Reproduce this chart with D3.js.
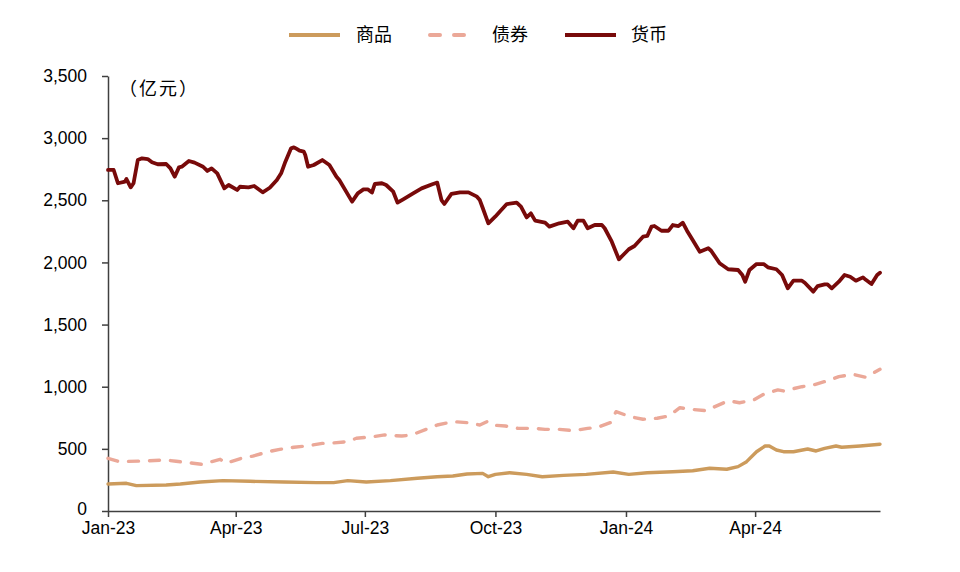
<!DOCTYPE html>
<html>
<head>
<meta charset="utf-8">
<script src="https://cdn.jsdelivr.net/npm/d3@7"></script>
<style>
  html, body { margin: 0; padding: 0; background: #fff; }
  svg { display: block; font-family: "Liberation Sans", Arial, sans-serif; }
</style>
</head>
<body>
<svg id="chart" width="960" height="572"></svg>
<script>
// ---- data ----
const seriesNames = ["商品", "债券", "货币"];
const unitLabel = "（亿元）";
const xTickDates = ["2023-01-01", "2023-04-01", "2023-07-01", "2023-10-01", "2024-01-01", "2024-04-01"];
const yTickValues = [0, 500, 1000, 1500, 2000, 2500, 3000, 3500];
const xDomain = ["2023-01-01", "2024-06-28"];

const commodityDates = ["2023-01-01","2023-01-14","2023-01-21","2023-02-11","2023-02-21","2023-03-07","2023-03-23","2023-04-11","2023-05-05","2023-05-28","2023-06-09","2023-06-19","2023-07-02","2023-07-19","2023-08-07","2023-08-21","2023-09-01","2023-09-11","2023-09-22","2023-09-26","2023-10-01","2023-10-11","2023-10-23","2023-11-03","2023-11-18","2023-12-04","2023-12-23","2024-01-03","2024-01-16","2024-02-03","2024-02-17","2024-02-29","2024-03-12","2024-03-20","2024-03-26","2024-04-02","2024-04-08","2024-04-11","2024-04-16","2024-04-21","2024-04-28","2024-05-08","2024-05-14","2024-05-20","2024-05-28","2024-06-01","2024-06-14","2024-06-28"];
const commodityValues = [217,223,204,209,217,233,244,239,233,228,228,244,233,244,263,276,282,298,303,276,295,308,295,276,287,295,314,295,308,316,324,344,336,357,397,477,523,523,491,477,477,499,483,504,523,513,523,537];

const bondDates = ["2023-01-01","2023-01-09","2023-01-24","2023-02-11","2023-02-18","2023-03-02","2023-03-08","2023-03-21","2023-03-25","2023-04-05","2023-04-13","2023-04-24","2023-05-02","2023-05-12","2023-05-21","2023-06-01","2023-06-09","2023-06-19","2023-06-25","2023-07-07","2023-07-15","2023-07-27","2023-08-03","2023-08-15","2023-08-21","2023-09-01","2023-09-11","2023-09-20","2023-09-25","2023-09-28","2023-10-08","2023-10-17","2023-10-28","2023-11-05","2023-11-15","2023-11-25","2023-12-05","2023-12-12","2023-12-21","2023-12-25","2024-01-04","2024-01-13","2024-01-23","2024-01-31","2024-02-08","2024-02-16","2024-02-27","2024-03-02","2024-03-13","2024-03-21","2024-03-31","2024-04-07","2024-04-17","2024-04-21","2024-05-04","2024-05-12","2024-05-22","2024-05-30","2024-06-09","2024-06-18","2024-06-28"];
const bondValues = [424,397,402,410,400,384,376,416,384,424,442,477,496,513,523,544,548,558,585,598,612,603,612,665,692,719,711,692,719,692,684,665,665,657,657,646,665,673,711,799,759,738,746,764,831,818,807,831,887,871,893,939,974,966,1000,1014,1048,1081,1100,1076,1140];

const moneyDates = ["2023-01-01","2023-01-05","2023-01-08","2023-01-13","2023-01-14","2023-01-17","2023-01-19","2023-01-22","2023-01-25","2023-01-29","2023-02-01","2023-02-05","2023-02-11","2023-02-14","2023-02-17","2023-02-20","2023-02-22","2023-02-27","2023-03-03","2023-03-09","2023-03-12","2023-03-15","2023-03-19","2023-03-24","2023-03-27","2023-04-02","2023-04-04","2023-04-10","2023-04-14","2023-04-20","2023-04-25","2023-04-30","2023-05-03","2023-05-06","2023-05-10","2023-05-12","2023-05-14","2023-05-16","2023-05-19","2023-05-20","2023-05-22","2023-05-26","2023-06-01","2023-06-06","2023-06-11","2023-06-13","2023-06-22","2023-06-26","2023-06-30","2023-07-03","2023-07-06","2023-07-08","2023-07-13","2023-07-16","2023-07-21","2023-07-24","2023-07-28","2023-08-04","2023-08-10","2023-08-18","2023-08-21","2023-08-24","2023-08-26","2023-08-31","2023-09-06","2023-09-12","2023-09-18","2023-09-20","2023-09-22","2023-09-26","2023-10-01","2023-10-04","2023-10-09","2023-10-16","2023-10-19","2023-10-23","2023-10-26","2023-10-29","2023-11-05","2023-11-08","2023-11-15","2023-11-21","2023-11-25","2023-11-28","2023-12-02","2023-12-05","2023-12-10","2023-12-15","2023-12-17","2023-12-22","2023-12-27","2023-12-30","2024-01-03","2024-01-07","2024-01-13","2024-01-16","2024-01-19","2024-01-21","2024-01-26","2024-01-31","2024-02-03","2024-02-07","2024-02-10","2024-02-13","2024-02-17","2024-02-22","2024-02-28","2024-03-01","2024-03-07","2024-03-13","2024-03-20","2024-03-23","2024-03-25","2024-03-28","2024-04-02","2024-04-07","2024-04-10","2024-04-16","2024-04-20","2024-04-24","2024-04-28","2024-05-04","2024-05-06","2024-05-12","2024-05-15","2024-05-20","2024-05-22","2024-05-25","2024-05-30","2024-06-03","2024-06-07","2024-06-11","2024-06-16","2024-06-18","2024-06-22","2024-06-26","2024-06-28"];
const moneyValues = [2744,2744,2637,2650,2671,2604,2637,2824,2838,2832,2806,2790,2792,2757,2690,2765,2770,2816,2803,2770,2736,2757,2717,2596,2623,2583,2609,2604,2615,2564,2601,2663,2717,2811,2918,2926,2913,2899,2891,2864,2770,2784,2824,2784,2690,2663,2489,2556,2588,2588,2562,2631,2637,2623,2569,2481,2508,2556,2596,2631,2642,2502,2470,2551,2564,2564,2529,2502,2440,2315,2370,2408,2470,2481,2449,2362,2395,2336,2320,2288,2315,2328,2275,2336,2336,2275,2301,2301,2275,2167,2025,2060,2106,2132,2207,2213,2288,2293,2255,2255,2301,2293,2320,2255,2180,2086,2114,2094,1993,1945,1939,1899,1845,1939,1987,1987,1961,1945,1899,1792,1853,1853,1837,1765,1810,1824,1824,1792,1845,1899,1885,1853,1880,1860,1826,1899,1917];

const seriesColors = ["#CC9B5C", "#EBA898", "#780A0A"];

// ---- chart ----
const parse = d3.timeParse("%Y-%m-%d");
const svg = d3.select("#chart");
const x = d3.scaleTime().domain(xDomain.map(parse)).range([108, 880]);
const y = d3.scaleLinear().domain([0, 3500]).range([511, 76]);

const toPoints = (ds, vs) => ds.map((d, i) => ({ date: parse(d), value: vs[i] }));
const series = [
  { name: seriesNames[0], color: seriesColors[0], width: 3.4, dash: null, pts: toPoints(commodityDates, commodityValues) },
  { name: seriesNames[1], color: seriesColors[1], width: 3.4, dash: "10,11", pts: toPoints(bondDates, bondValues) },
  { name: seriesNames[2], color: seriesColors[2], width: 3.8, dash: null, pts: toPoints(moneyDates, moneyValues) }
];

const line = d3.line().x(d => x(d.date)).y(d => y(d.value)).curve(d3.curveLinear);

// axes
const axisColor = "#404040";
const yAxis = svg.append("g").attr("transform", "translate(108,0)")
  .call(d3.axisLeft(y).tickValues(yTickValues).tickFormat(d3.format(",")).tickSize(6).tickSizeOuter(0));
const xAxis = svg.append("g").attr("transform", "translate(0,511)")
  .call(d3.axisBottom(x).tickValues(xTickDates.map(parse)).tickFormat(d3.timeFormat("%b-%y")).tickSize(6).tickSizeOuter(0));

[yAxis, xAxis].forEach(g => {
  g.select(".domain").attr("stroke", axisColor).attr("stroke-width", 1.5);
  g.selectAll(".tick line").attr("stroke", axisColor).attr("stroke-width", 1.5);
  g.selectAll(".tick text").attr("fill", "#000").attr("font-size", 17.5)
    .attr("font-family", "'Liberation Sans', Arial, sans-serif");
});
yAxis.selectAll(".tick text").attr("x", -21);
yAxis.selectAll(".tick text").filter(d => d === 0).attr("dy", "0.2em");
xAxis.selectAll(".tick text").attr("y", 11);

// lines
series.forEach(s => {
  svg.append("path").datum(s.pts)
    .attr("fill", "none")
    .attr("stroke", s.color)
    .attr("stroke-width", s.width)
    .attr("stroke-linejoin", "round")
    .attr("stroke-linecap", "round")
    .attr("stroke-dasharray", s.dash)
    .attr("d", line);
});

// unit label
svg.append("text").attr("x", 119).attr("y", 95)
  .attr("font-size", 18).attr("letter-spacing", 2).attr("font-family", "'Noto Sans CJK SC', sans-serif")
  .attr("fill", "#000").text(unitLabel);

// legend
const legendItems = [
  { x0: 289, x1: 340, tx: 356 },
  { x0: 428, x1: 470, tx: 492 },
  { x0: 565, x1: 616, tx: 631 }
];
const legend = svg.append("g");
series.forEach((s, i) => {
  const L = legendItems[i];
  legend.append("line").attr("x1", L.x0 + (s.dash ? 2 : 0)).attr("x2", L.x1).attr("y1", 35).attr("y2", 35)
    .attr("stroke", s.color).attr("stroke-width", 4)
    .attr("stroke-linecap", s.dash ? "round" : "butt")
    .attr("stroke-dasharray", s.dash ? "10,14" : null);
  legend.append("text").attr("x", L.tx).attr("y", 41)
    .attr("font-size", 18).attr("font-family", "'Noto Sans CJK SC', sans-serif")
    .attr("fill", "#000").text(s.name);
});
</script>
</body>
</html>
